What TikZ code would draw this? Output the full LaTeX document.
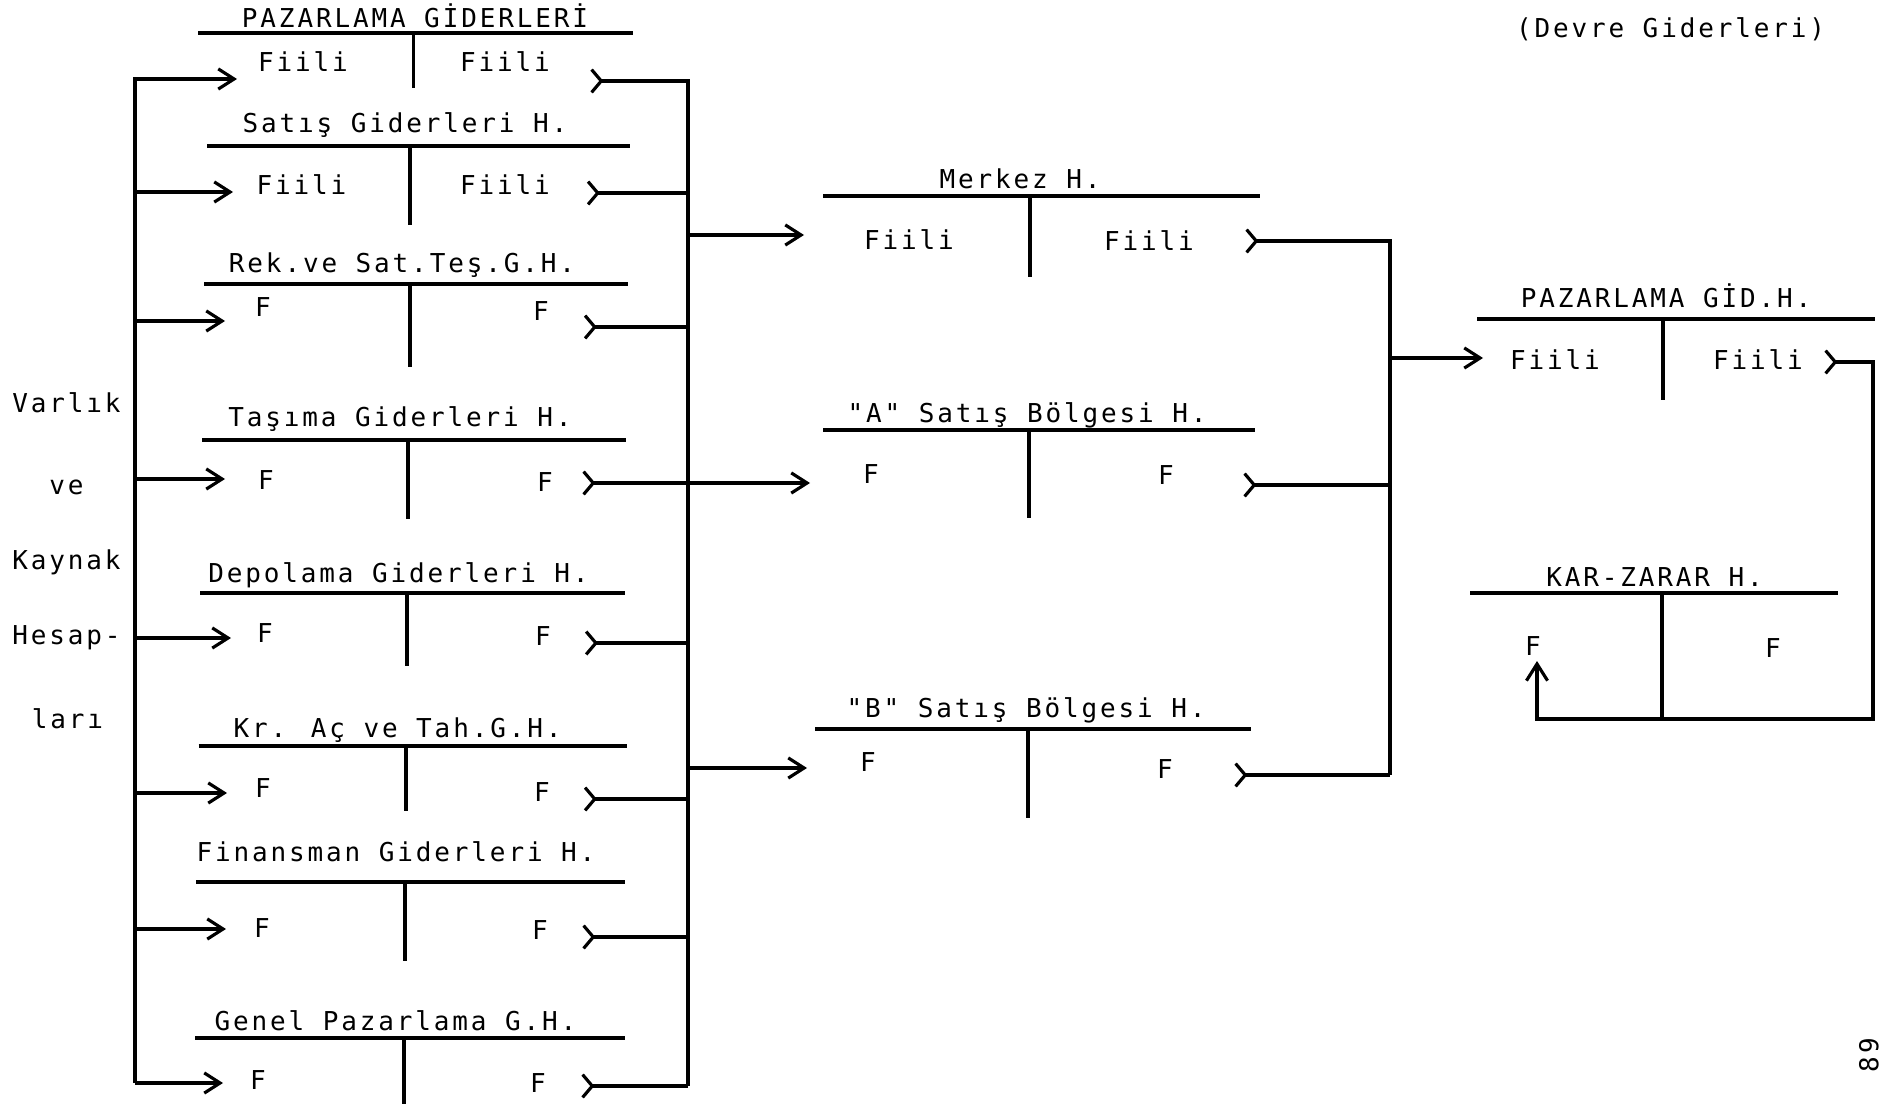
\documentclass[tikz,border=0pt]{standalone}
\usepackage{fontspec}
\newfontfamily\tw{DejaVu Sans Mono}[LetterSpace=11]
\usetikzlibrary{arrows.meta}
\tikzset{
  intip/.tip={Straight Barb[length=9pt, width=11.5pt]},
  uptip/.tip={Straight Barb[length=9.5pt, width=12pt]},
  outtip/.tip={Straight Barb[reversed, length=5.5pt, width=13pt]},
  txt/.style={font=\tw\fontsize{14.8pt}{16pt}\selectfont, inner sep=0pt, anchor=base},
  tline/.style={line width=2.1pt},
  conn/.style={line width=1.8pt},
  inarr/.style={conn, -intip},
  outarr/.style={conn, outtip-},
}
\begin{document}
\begin{tikzpicture}[x=0.02cm, y=-0.02cm]
\fill[white] (0,0) rectangle (1892,1104);
\useasboundingbox (0,0) rectangle (1892,1104);

% ---------- left labels
\node[txt] (v1) at (66.5,413) {Varlık};
\node[txt] (v2) at (66.5,494) {ve};
\node[txt] (v3) at (66.5,569) {Kaynak};
\node[txt] (v4) at (66.5,644) {Hesap-};
\node[txt] (v5) at (67.5,728) {ları};

% ---------- left column accounts
\node[txt] (t1) at (415,28) {PAZARLAMA GİDERLERİ};
\draw[tline] (198,33) -- (633,33) (413.5,33) -- (413.5,88);
\node[txt] (l1) at (303,72) {Fiili};
\node[txt] (r1) at (505,72) {Fiili};

\node[txt] (t2) at (405,133) {Satış Giderleri H.};
\draw[tline] (207,146) -- (630,146) (410,146) -- (410,225);
\node[txt] (l2) at (301.5,195) {Fiili};
\node[txt] (r2) at (505,195) {Fiili};

\node[txt] (t3) at (402,273) {Rek.ve Sat.Teş.G.H.};
\draw[tline] (204,284) -- (628,284) (410,284) -- (410,367);
\node[txt] (l3) at (263,317) {F};
\node[txt] (r3) at (541,321) {F};

\node[txt] (t4) at (400,427) {Taşıma Giderleri H.};
\draw[tline] (202,440) -- (626,440) (408,440) -- (408,519);
\node[txt] (l4) at (266,489) {F};
\node[txt] (r4) at (545,491) {F};

\node[txt] (t5) at (398.5,582) {Depolama Giderleri H.};
\draw[tline] (200,593) -- (625,593) (407,593) -- (407,666);
\node[txt] (l5) at (265,642) {F};
\node[txt] (r5) at (543,645) {F};

\node[txt] (t6) at (397.5,737) {Kr. Aç ve Tah.G.H.};
\draw[tline] (198.5,746) -- (627,746) (406,746) -- (406,811);
\node[txt] (l6) at (263,797) {F};
\node[txt] (r6) at (542,801) {F};

\node[txt] (t7) at (396,861) {Finansman Giderleri H.};
\draw[tline] (196,882) -- (625,882) (405,882) -- (405,961);
\node[txt] (l7) at (262,937) {F};
\node[txt] (r7) at (540,939) {F};

\node[txt] (t8) at (395.5,1030) {Genel Pazarlama G.H.};
\draw[tline] (195,1038) -- (625,1038) (404,1038) -- (404,1104);
\node[txt] (l8) at (258,1089) {F};
\node[txt] (r8) at (538,1092) {F};

% ---------- middle column accounts
\node[txt] (tm) at (1020,189) {Merkez H.};
\draw[tline] (823,196) -- (1259.5,196) (1030,196) -- (1030,277);
\node[txt] (lm) at (909,250) {Fiili};
\node[txt] (rm) at (1149,251) {Fiili};

\node[txt] (ta) at (1027,422) {"A" Satış Bölgesi H.};
\draw[tline] (823,430) -- (1255,430) (1029,430) -- (1029,518);
\node[txt] (la) at (871,483) {F};
\node[txt] (ra) at (1166,484) {F};

\node[txt] (tb) at (1026,717) {"B" Satış Bölgesi H.};
\draw[tline] (815,729) -- (1251,729) (1028,729) -- (1028,818);
\node[txt] (lb) at (868,771) {F};
\node[txt] (rb) at (1165,778) {F};

% ---------- right column accounts
\node[txt] (dev) at (1670.5,37.5) {(Devre Giderleri)};

\node[txt] (tp) at (1666,308) {PAZARLAMA GİD.H.};
\draw[tline] (1477,319) -- (1875,319) (1663,319) -- (1663,400);
\node[txt] (lp) at (1555,370) {Fiili};
\node[txt] (rp) at (1758,370) {Fiili};

\node[txt] (tk) at (1654.5,586) {KAR-ZARAR H.};
\draw[tline] (1470,593) -- (1838,593) (1662,593) -- (1662,719);
\node[txt] (lk) at (1533,655) {F};
\node[txt] (rk) at (1773,657) {F};

\node[txt, anchor=center, rotate=90] (pg) at (1869,1055) {89};

% ---------- connector points
\coordinate (lbB) at (135,1083);
\coordinate (a1i) at (237,79);
\coordinate (a2i) at (233,192);
\coordinate (a3i) at (225,321);
\coordinate (a4i) at (225,479);
\coordinate (a5i) at (231,638);
\coordinate (a6i) at (227,793);
\coordinate (a7i) at (226,929);
\coordinate (a8i) at (223,1083);

\coordinate (rbB) at (688,1086);
\coordinate (a1o) at (590,81);
\coordinate (a2o) at (586.5,193);
\coordinate (a3o) at (583.5,327);
\coordinate (a4o) at (582,483);
\coordinate (a5o) at (584.6,643);
\coordinate (a6o) at (583.5,799);
\coordinate (a7o) at (582,937);
\coordinate (a8o) at (581,1086);

\coordinate (mi) at (804,235);
\coordinate (ai) at (810,483);
\coordinate (bi) at (807,768);
\coordinate (mo) at (1245,241);
\coordinate (ao) at (1243,485);
\coordinate (bo) at (1234,775);
\coordinate (b2B) at (1390,775);
\coordinate (pin) at (1483,358);
\coordinate (po) at (1824,362);
\coordinate (kc) at (1873,719);
\coordinate (ki) at (1537,661);

% ---------- connectors
\draw[inarr] (lbB) |- (a1i);
\foreach \i in {2,...,7} {\draw[inarr] (lbB |- a\i i) -- (a\i i);}
\draw[inarr] (lbB) -- (a8i);

\draw[outarr] (a1o) -| (rbB);
\foreach \i in {2,3,5,6,7} {\draw[outarr] (a\i o) -- (rbB |- a\i o);}
\draw[outarr] (a8o) -- (rbB);
\draw[conn, outtip-intip] (a4o) -- (ai);

\draw[inarr] (rbB |- mi) -- (mi);
\draw[inarr] (rbB |- bi) -- (bi);

\draw[outarr] (mo) -| (b2B);
\draw[outarr] (ao) -- (b2B |- ao);
\draw[outarr] (bo) -- (b2B);
\draw[inarr] (b2B |- pin) -- (pin);

\draw[conn, outtip-uptip] (po) -| (kc) -| (ki);
\end{tikzpicture}
\end{document}
